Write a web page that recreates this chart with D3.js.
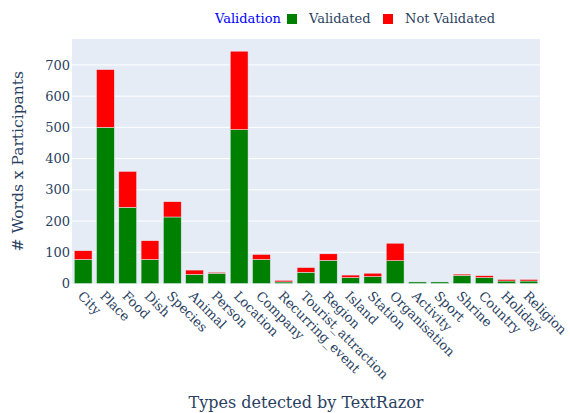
<!DOCTYPE html>
<html>
<head>
<meta charset="utf-8">
<script src="https://cdn.jsdelivr.net/npm/d3@7"></script>
<style>
  body { margin: 0; background: #fff; }
  svg { display: block; font-family: "DejaVu Serif", "Liberation Serif", serif; }
</style>
</head>
<body>
<div id="chart"></div>
<script>
const categories = ['City', 'Place', 'Food', 'Dish', 'Species', 'Animal', 'Person', 'Location',
  'Company', 'Recurring_event', 'Tourist_attraction', 'Region', 'Island', 'Station',
  'Organisation', 'Activity', 'Sport', 'Shrine', 'Country', 'Holiday', 'Religion'];
const validated = [77, 500, 244, 77, 213, 29, 33, 493, 77, 5, 36, 74, 19, 22, 73, 5, 5, 26, 19, 8, 8];
const notValidated = [28, 185, 115, 60, 49, 14, 3, 251, 16, 5, 15, 21, 8, 11, 56, 0, 0, 4, 6, 5, 5];
const yTicks = [0, 100, 200, 300, 400, 500, 600, 700];
const seriesNames = ['Validated', 'Not Validated'];
const seriesColors = ['green', 'red'];

const width = 570, height = 413;
const margin = { top: 39, right: 30, bottom: 129.5, left: 72 };
const innerW = width - margin.left - margin.right;
const innerH = height - margin.top - margin.bottom;
const textColor = '#2a3f5f';

const svg = d3.select('#chart').append('svg')
  .attr('width', width).attr('height', height);

const rows = categories.map((c, i) => ({ category: c, Validated: validated[i], 'Not Validated': notValidated[i] }));
const stacked = d3.stack().keys(seriesNames)(rows);

const x = d3.scaleBand().domain(categories).range([0, innerW]).paddingInner(0.2).paddingOuter(0.1);
const y = d3.scaleLinear().domain([0, 783]).range([innerH, 0]);

const g = svg.append('g').attr('transform', `translate(${margin.left},${margin.top})`);

g.append('rect').attr('width', innerW).attr('height', innerH).attr('fill', '#E5ECF6');

// grid
g.selectAll('line.grid').data(yTicks.filter(d => d > 0)).enter().append('line')
  .attr('class', 'grid')
  .attr('x1', 0).attr('x2', innerW)
  .attr('y1', d => y(d)).attr('y2', d => y(d))
  .attr('stroke', '#fff').attr('stroke-width', 1);

// bars
const layer = g.selectAll('g.layer').data(stacked).enter().append('g')
  .attr('fill', (d, i) => seriesColors[i]);
layer.selectAll('rect').data(d => d).enter().append('rect')
  .attr('x', d => x(d.data.category))
  .attr('width', x.bandwidth())
  .attr('y', d => y(d[1]))
  .attr('height', d => Math.max(0, y(d[0]) - y(d[1])))
  .attr('stroke', '#E5ECF6').attr('stroke-width', 0.5);

// y axis
const yAxis = g.append('g').call(d3.axisLeft(y).tickValues(yTicks).tickSize(0).tickPadding(2));
yAxis.select('.domain').remove();
yAxis.selectAll('text').attr('fill', textColor).style('font-size', '13px')
  .style('font-family', '"DejaVu Serif", serif');

// x axis
const xAxis = g.append('g').attr('transform', `translate(0,${innerH})`)
  .call(d3.axisBottom(x).tickSize(0));
xAxis.select('.domain').remove();
xAxis.selectAll('text')
  .attr('fill', textColor).style('font-size', '13px')
  .style('font-family', '"DejaVu Serif", serif')
  .attr('text-anchor', 'start')
  .attr('x', 0).attr('y', 0).attr('dy', '0.35em')
  .attr('transform', 'translate(-3,10) rotate(45)');

// axis titles
svg.append('text')
  .attr('x', margin.left + innerW / 2).attr('y', 408)
  .attr('text-anchor', 'middle').attr('fill', textColor)
  .style('font-size', '16px')
  .text('Types detected by TextRazor');

svg.append('text')
  .attr('transform', `translate(23,${margin.top + innerH / 2}) rotate(-90)`)
  .attr('text-anchor', 'middle').attr('fill', textColor)
  .style('font-size', '15.5px')
  .text('# Words x Participants');

// legend
const legend = svg.append('g').attr('transform', 'translate(215,23)');
legend.append('text').attr('x', 0).attr('y', 0)
  .attr('fill', 'blue').style('font-size', '13px').text('Validation');
const items = [{ x: 72 }, { x: 168 }];
seriesNames.forEach((name, i) => {
  const it = legend.append('g').attr('transform', `translate(${items[i].x},0)`);
  it.append('rect').attr('x', 0).attr('y', -9).attr('width', 10).attr('height', 10)
    .attr('fill', seriesColors[i]);
  it.append('text').attr('x', 22).attr('y', 0)
    .attr('fill', textColor).style('font-size', '13px').text(name);
});
</script>
</body>
</html>
